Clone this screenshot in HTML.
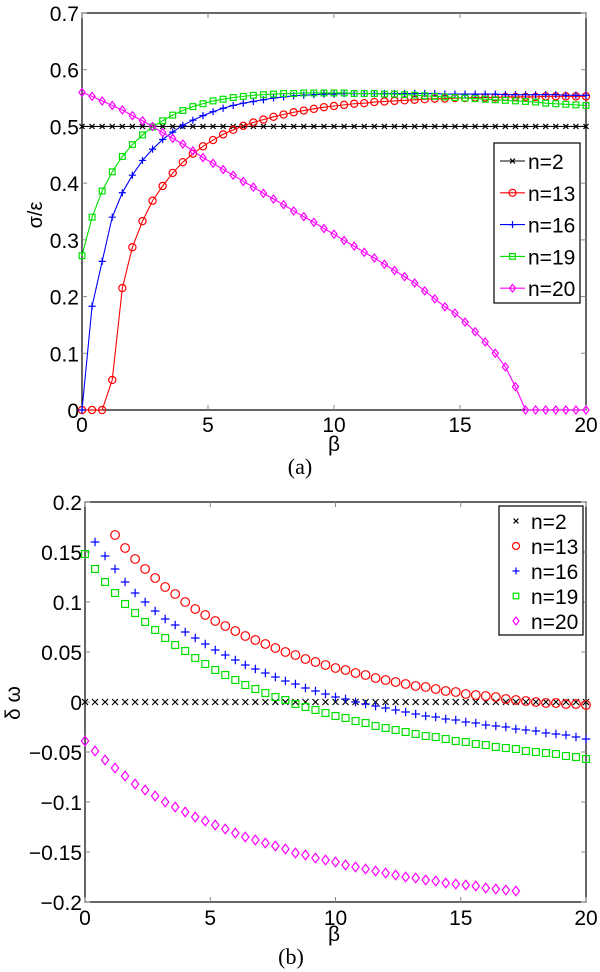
<!DOCTYPE html>
<html><head><meta charset="utf-8"><style>
html,body{margin:0;padding:0;background:#fff;}
svg{display:block;}
text{font-family:"Liberation Sans",sans-serif;fill:#000;}
.ser{font-family:"Liberation Serif",serif;}
</style></head><body>
<svg id="chart" width="600" height="972" viewBox="0 0 600 972" xmlns="http://www.w3.org/2000/svg"></svg>
<script>
// ---- data ----
const betaStep = 0.4;
const topXTicks = [0,5,10,15,20];
const topYTicks = [0,0.1,0.2,0.3,0.4,0.5,0.6,0.7];
const topYTickLabels = ['0','0.1','0.2','0.3','0.4','0.5','0.6','0.7'];
const botXTicks = [0,5,10,15,20];
const botYTicks = [-0.2,-0.15,-0.1,-0.05,0,0.05,0.1,0.15,0.2];
const botYTickLabels = ['\u22120.2','\u22120.15','\u22120.1','\u22120.05','0','0.05','0.1','0.15','0.2'];
const seriesNames = ['n=2','n=13','n=16','n=19','n=20'];

const topN2 = [0.5,0.5,0.5,0.5,0.5,0.5,0.5,0.5,0.5,0.5,0.5,0.5,0.5,0.5,0.5,0.5,0.5,0.5,0.5,0.5,0.5,0.5,0.5,0.5,0.5,0.5,0.5,0.5,0.5,0.5,0.5,0.5,0.5,0.5,0.5,0.5,0.5,0.5,0.5,0.5,0.5,0.5,0.5,0.5,0.5,0.5,0.5,0.5,0.5,0.5,0.5];
const topN13 = [0,0,0,0.053,0.215,0.287,0.333,0.369,0.395,0.418,0.437,0.452,0.465,0.476,0.486,0.494,0.501,0.507,0.512,0.517,0.521,0.525,0.528,0.531,0.534,0.536,0.538,0.540,0.541,0.543,0.544,0.545,0.546,0.547,0.548,0.549,0.549,0.550,0.550,0.551,0.551,0.551,0.552,0.552,0.552,0.552,0.553,0.553,0.553,0.553,0.553];
const topN16 = [0,0.183,0.262,0.340,0.383,0.414,0.440,0.460,0.477,0.490,0.502,0.511,0.519,0.526,0.532,0.537,0.541,0.544,0.547,0.550,0.552,0.554,0.555,0.556,0.557,0.557,0.558,0.558,0.558,0.558,0.558,0.558,0.558,0.558,0.558,0.558,0.557,0.557,0.557,0.557,0.557,0.557,0.556,0.556,0.556,0.556,0.556,0.556,0.555,0.555,0.555];
const topN19 = [0.272,0.340,0.386,0.420,0.447,0.468,0.485,0.499,0.510,0.520,0.528,0.535,0.540,0.545,0.548,0.551,0.553,0.555,0.556,0.557,0.558,0.558,0.559,0.559,0.559,0.559,0.559,0.558,0.558,0.558,0.557,0.557,0.556,0.555,0.554,0.553,0.552,0.551,0.550,0.549,0.548,0.547,0.546,0.545,0.544,0.543,0.541,0.540,0.539,0.538,0.537];
const topN20 = [0.560,0.553,0.545,0.537,0.529,0.519,0.510,0.500,0.489,0.479,0.469,0.457,0.445,0.435,0.424,0.414,0.403,0.393,0.382,0.372,0.362,0.351,0.341,0.331,0.320,0.310,0.299,0.289,0.278,0.268,0.257,0.246,0.235,0.224,0.210,0.196,0.182,0.171,0.155,0.138,0.120,0.100,0.076,0.041,0,0,0,0,0,0,0];

const botN2 = [0,0,0,0,0,0,0,0,0,0,0,0,0,0,0,0,0,0,0,0,0,0,0,0,0,0,0,0,0,0,0,0,0,0,0,0,0,0,0,0,0,0,0,0,0,0,0,0,0,0,0];
const botN13 = [null,null,null,0.167,0.154,0.143,0.133,0.124,0.115,0.108,0.100,0.093,0.087,0.081,0.076,0.071,0.066,0.062,0.058,0.054,0.050,0.047,0.043,0.040,0.037,0.034,0.032,0.029,0.027,0.024,0.022,0.020,0.018,0.016,0.015,0.013,0.011,0.010,0.008,0.007,0.006,0.005,0.003,0.002,0.001,0.000,-0.001,-0.001,-0.002,-0.002,-0.003];
const botN16 = [null,0.160,0.146,0.133,0.120,0.109,0.100,0.091,0.083,0.077,0.070,0.064,0.058,0.052,0.047,0.042,0.037,0.033,0.029,0.025,0.021,0.018,0.014,0.011,0.008,0.005,0.003,0.000,-0.002,-0.004,-0.006,-0.008,-0.010,-0.012,-0.014,-0.015,-0.017,-0.018,-0.020,-0.021,-0.023,-0.024,-0.025,-0.027,-0.028,-0.029,-0.031,-0.032,-0.033,-0.035,-0.037];
const botN19 = [0.148,0.133,0.120,0.109,0.098,0.089,0.080,0.072,0.064,0.057,0.051,0.044,0.038,0.032,0.027,0.022,0.017,0.013,0.009,0.005,0.002,-0.002,-0.005,-0.008,-0.011,-0.014,-0.016,-0.019,-0.021,-0.024,-0.026,-0.028,-0.030,-0.032,-0.034,-0.035,-0.037,-0.039,-0.040,-0.042,-0.043,-0.045,-0.046,-0.047,-0.049,-0.050,-0.051,-0.052,-0.054,-0.055,-0.057];
const botN20 = [-0.039,-0.049,-0.058,-0.066,-0.074,-0.082,-0.088,-0.094,-0.100,-0.105,-0.110,-0.115,-0.119,-0.123,-0.127,-0.131,-0.135,-0.138,-0.141,-0.144,-0.147,-0.151,-0.153,-0.156,-0.158,-0.160,-0.163,-0.165,-0.167,-0.169,-0.171,-0.173,-0.175,-0.176,-0.178,-0.179,-0.181,-0.182,-0.183,-0.184,-0.186,-0.187,-0.188,-0.189];

// ---- drawing ----
const NS='http://www.w3.org/2000/svg';
const svg=document.getElementById('chart');
const colors=['#000000','#ff0000','#0000ff','#00e000','#ff00ff'];
const markers=['x','o','+','s','d'];
function el(tag,attrs,parent){const e=document.createElementNS(NS,tag);for(const k in attrs)e.setAttribute(k,attrs[k]);(parent||svg).appendChild(e);return e;}

function marker(g,type,cx,cy,r,col){
  let m;
  if(type==='x'){m=el('path',{d:`M${cx-r*0.7},${cy-r*0.7}L${cx+r*0.7},${cy+r*0.7}M${cx-r*0.7},${cy+r*0.7}L${cx+r*0.7},${cy-r*0.7}`,stroke:col,'stroke-width':1.2,fill:'none'},g);}
  else if(type==='o'){m=el('circle',{cx:cx,cy:cy,r:r,stroke:col,'stroke-width':1.2,fill:'none'},g);}
  else if(type==='+'){m=el('path',{d:`M${cx-r},${cy}L${cx+r},${cy}M${cx},${cy-r}L${cx},${cy+r}`,stroke:col,'stroke-width':1.2,fill:'none'},g);}
  else if(type==='s'){m=el('rect',{x:cx-r*0.8,y:cy-r*0.8,width:r*1.6,height:r*1.6,stroke:col,'stroke-width':1.2,fill:'none'},g);}
  else {m=el('path',{d:`M${cx},${cy-r*1.1}L${cx+r*0.85},${cy}L${cx},${cy+r*1.1}L${cx-r*0.85},${cy}Z`,stroke:col,'stroke-width':1.2,fill:'none'},g);}
  
  
  return m;
}

function drawAxes(p){
  const xs=v=>p.x0+(v-p.xmin)/(p.xmax-p.xmin)*(p.x1-p.x0);
  const ys=v=>p.y1-(v-p.ymin)/(p.ymax-p.ymin)*(p.y1-p.y0);
  const g=el('g',{});
  
  
  const box=el('rect',{x:p.x0,y:p.y0,width:p.x1-p.x0,height:p.y1-p.y0,fill:'none',stroke:'#000','stroke-width':1.2},g);
  
  
  p.xticks.forEach(v=>{
    const x=xs(v);
    el('line',{x1:x,y1:p.y1,x2:x,y2:p.y1-5,stroke:'#888','stroke-width':1},g);
    el('line',{x1:x,y1:p.y0,x2:x,y2:p.y0+5,stroke:'#888','stroke-width':1},g);
    const t=el('text',{x:x,y:p.y1+p.xlabOff,'text-anchor':'middle','font-size':21},g);
    t.textContent=String(v);
    
    
  });
  p.yticks.forEach((v,i)=>{
    const y=ys(v);
    el('line',{x1:p.x0,y1:y,x2:p.x0+5,y2:y,stroke:'#888','stroke-width':1},g);
    el('line',{x1:p.x1,y1:y,x2:p.x1-5,y2:y,stroke:'#888','stroke-width':1},g);
    const t=el('text',{x:p.x0-3,y:y+8,'text-anchor':'end','font-size':21},g);
    t.textContent=p.ylabels[i];
    
    
  });
  return {xs,ys,g};
}

function drawSeries(ax,data,idx,withLine,r){
  const g=el('g',{},ax.g);
  
  
  if(withLine){
    let d='';
    data.forEach((v,i)=>{if(v===null)return;const x=ax.xs(i*betaStep),y=ax.ys(v);d+=(d?'L':'M')+x.toFixed(2)+','+y.toFixed(2);});
    const l=el('path',{d:d,stroke:colors[idx],'stroke-width':1.1,fill:'none'},g);
    
    
  }
  data.forEach((v,i)=>{if(v===null)return;marker(g,markers[idx],ax.xs(i*betaStep),ax.ys(v),r,colors[idx]);});
}

// top panel
const axA=drawAxes({name:'panel-a',x0:82,x1:586,y0:13,y1:410,xmin:0,xmax:20,ymin:0,ymax:0.7,xticks:topXTicks,yticks:topYTicks,ylabels:topYTickLabels,xlabOff:22});
[topN2,topN13,topN16,topN19,topN20].forEach((d,i)=>drawSeries(axA,d,i,true,3.6));
// bottom panel
const axB=drawAxes({name:'panel-b',x0:85,x1:586,y0:502,y1:902,xmin:0,xmax:20,ymin:-0.2,ymax:0.2,xticks:botXTicks,yticks:botYTicks,ylabels:botYTickLabels,xlabOff:23});
[botN2,botN13,botN16,botN19,botN20].forEach((d,i)=>drawSeries(axB,d,i,false,4.3));

// legends
function legend(x,y,w,h,rows,withLine,name){
  const g=el('g',{});
  
  
  const b=el('rect',{x:x,y:y,width:w,height:h,fill:'#fff',stroke:'#000','stroke-width':1.2},g);
  
  
  seriesNames.forEach((n,i)=>{
    const cy=y+rows[0]+i*rows[1];
    const eg=el('g',{},g);
    
    
    if(withLine){
      el('line',{x1:x+6,y1:cy,x2:x+31,y2:cy,stroke:colors[i],'stroke-width':1.1},eg);
      marker(eg,markers[i],x+18.5,cy,3.5,colors[i]);
    }else{
      marker(eg,markers[i],x+17,cy,3.5,colors[i]);
    }
    const t=el('text',{x:x+(withLine?34:32),y:cy+8,'font-size':21},eg);
    t.textContent=n;
    
    
  });
}
legend(494,143,86,160,[18,31.8],true,'legend-a');
legend(499,506,84,129,[15,25],false,'legend-b');

// axis titles
function label(txt,x,y,size,cls,name,rot){
  const t=el('text',{x:x,y:y,'text-anchor':'middle','font-size':size});
  if(cls)t.setAttribute('class',cls);
  if(rot)t.setAttribute('transform',`rotate(-90 ${x} ${y})`);
  t.textContent=txt;
  
  
}
label('\u03c3/\u03b5',42,215,20,'','y-axis-title-a',true);
label('\u03b2',334,451,21,'','x-axis-title-a',false);
label('(a)',300,474,22,'ser','panel-label-a',false);
label('\u03b4 \u03c9',20,703,21,'','y-axis-title-b',true);
label('\u03b2',334,941,21,'','x-axis-title-b',false);
label('(b)',291,964,22,'ser','panel-label-b',false);
</script>
</body></html>
